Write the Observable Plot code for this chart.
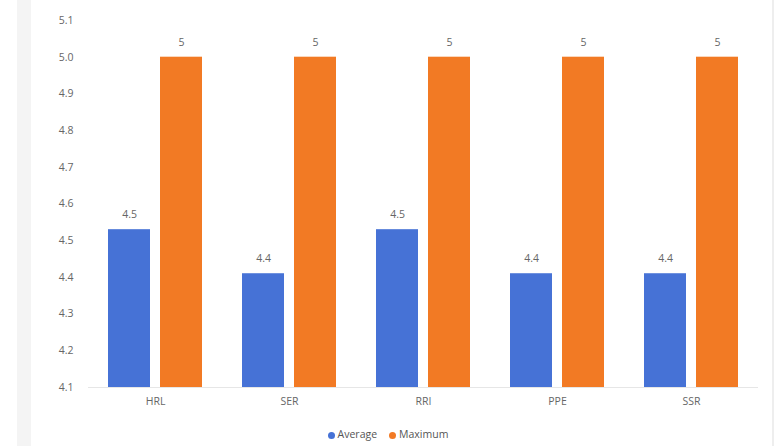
<!DOCTYPE html>
<html>
<head>
<meta charset="utf-8">
<script src="https://cdn.jsdelivr.net/npm/d3@7"></script>
<script src="https://cdn.jsdelivr.net/npm/@observablehq/plot@0.6"></script>
<style>
  html, body { margin: 0; padding: 0; background: #fff; }
  body { width: 776px; height: 446px; overflow: hidden; position: relative; font-family: "Open Sans", "Liberation Sans", sans-serif; }
  #leftband { position: absolute; left: 17px; top: 0; width: 14px; height: 446px; background: #f4f4f4; }
  #rightline { position: absolute; left: 772px; top: 0; width: 2px; height: 446px; background: #eeeeee; }
  #chart { position: absolute; left: 0; top: 0; }
  #legend { position: absolute; top: 427px; left: 0; width: 776px; text-align: center; font-size: 10.5px; color: #555; }
  #legend span.sw { display: inline-block; width: 7px; height: 7px; border-radius: 50%; margin-right: 3px; vertical-align: middle; }
  #legend span.item { margin: 0 6px; }
</style>
</head>
<body>
<div id="leftband"></div>
<div id="rightline"></div>
<div id="chart"></div>
<div id="legend"></div>
<script>
const categories = ["HRL", "SER", "RRI", "PPE", "SSR"];
const seriesNames = ["Average", "Maximum"];
const averageValues = [4.53, 4.41, 4.53, 4.41, 4.41];
const maximumValues = [5.0, 5.0, 5.0, 5.0, 5.0];
const averageLabels = ["4.5", "4.4", "4.5", "4.4", "4.4"];
const maximumLabels = ["5", "5", "5", "5", "5"];
const yTicks = [4.1, 4.2, 4.3, 4.4, 4.5, 4.6, 4.7, 4.8, 4.9, 5.0, 5.1];
const colors = ["#4672d6", "#f27a24"];

const rows = [];
categories.forEach((c, i) => {
  rows.push({category: c, series: seriesNames[0], value: averageValues[i], label: averageLabels[i]});
  rows.push({category: c, series: seriesNames[1], value: maximumValues[i], label: maximumLabels[i]});
});

const plot = Plot.plot({
  width: 776,
  height: 420,
  marginLeft: 88,
  marginRight: 18,
  marginTop: 20,
  marginBottom: 33,
  style: {fontFamily: "Open Sans, Liberation Sans, sans-serif", fontSize: "10.5px", color: "#666", background: "transparent"},
  fx: {domain: categories, padding: 0, label: null, axis: "bottom", tickSize: 0, tickPadding: 10},
  x: {domain: seriesNames, paddingInner: 0.19, paddingOuter: 0.38, axis: null},
  y: {domain: [4.1, 5.1], ticks: yTicks, tickFormat: d3.format(".1f"), label: null, tickSize: 0, tickPadding: 15},
  color: {domain: seriesNames, range: colors},
  marks: [
    Plot.barY(rows, {fx: "category", x: "series", y1: 4.1, y2: "value", fill: "series"}),
    Plot.text(rows, {fx: "category", x: "series", y: "value", text: "label", dy: -15, fill: "#666", fontSize: 10.5}),
    Plot.ruleY([4.1], {stroke: "#e6e6e6"})
  ]
});
document.getElementById("chart").appendChild(plot);

const legend = document.getElementById("legend");
seriesNames.forEach((s, i) => {
  const item = document.createElement("span");
  item.className = "item";
  const sw = document.createElement("span");
  sw.className = "sw";
  sw.style.background = colors[i];
  item.appendChild(sw);
  item.appendChild(document.createTextNode(s));
  legend.appendChild(item);
});
</script>
</body>
</html>
